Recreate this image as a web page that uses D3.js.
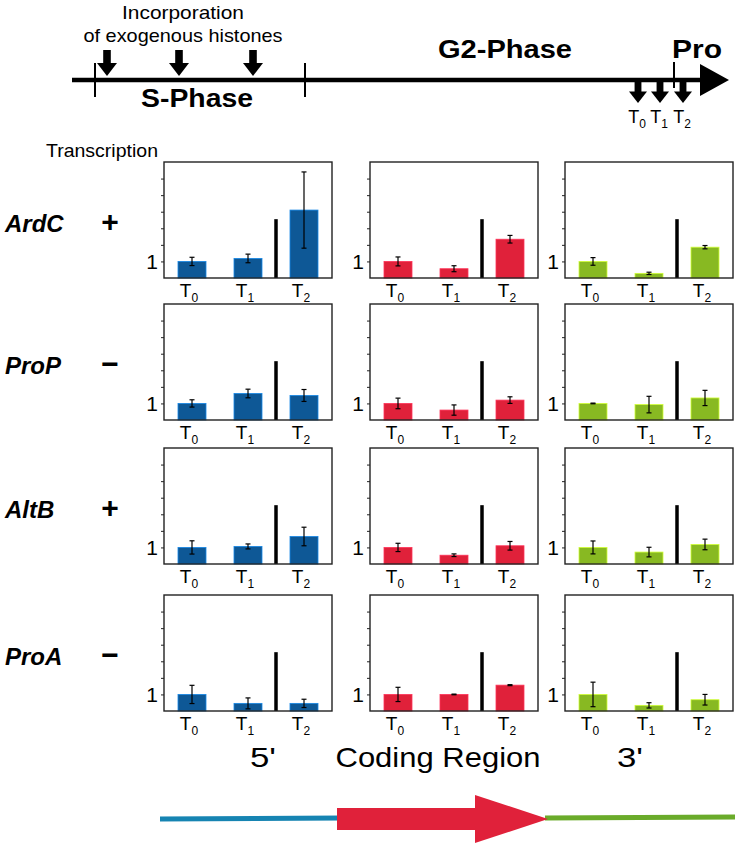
<!DOCTYPE html>
<html>
<head>
<meta charset="utf-8">
<script src="https://cdn.jsdelivr.net/npm/d3@7"></script>
<style>
  body { margin:0; background:#fff; }
  text { font-family: "Liberation Sans", Arial, sans-serif; }
</style>
</head>
<body>
<svg id="svg1" width="742" height="844"></svg>
<script>
// ---- data ----
var genes = ["ArdC", "ProP", "AltB", "ProA"];
var signs = ["+", "\u2212", "+", "\u2212"];
var regions = ["5'", "Coding Region", "3'"];
var timepoints = ["0", "1", "2"];
var regionColors = ["#0e5896", "#e0213a", "#88b922"];

// relative transcript level per gene (rows) and time point (T0,T1,T2)
var fivePrimeMean  = [[1.0, 1.18, 4.1], [1.0, 1.6, 1.48], [1.0, 1.06, 1.66], [1.0, 0.46, 0.46]];
var fivePrimeErr   = [[0.25, 0.26, 2.3], [0.22, 0.26, 0.36], [0.4, 0.15, 0.56], [0.55, 0.33, 0.25]];
var codingMean     = [[1.0, 0.56, 2.34], [1.0, 0.6, 1.2], [1.0, 0.53, 1.1], [1.0, 1.0, 1.56]];
var codingErr      = [[0.27, 0.18, 0.23], [0.32, 0.31, 0.2], [0.25, 0.08, 0.26], [0.43, 0.02, 0.03]];
var threePrimeMean = [[1.0, 0.28, 1.86], [1.0, 0.93, 1.33], [1.0, 0.72, 1.18], [1.0, 0.34, 0.68]];
var threePrimeErr  = [[0.23, 0.07, 0.1], [0.02, 0.5, 0.46], [0.39, 0.29, 0.32], [0.74, 0.16, 0.32]];
var dividerValue = 3.55;
var yMax = 7;
var yTicks = [1, 2, 3, 4, 5, 6];

var means = [fivePrimeMean, codingMean, threePrimeMean];
var errs = [fivePrimeErr, codingErr, threePrimeErr];

var svg = d3.select("#svg1");

// ---- cell cycle timeline at the top ----
var tl = svg.append("g");
tl.append("line").attr("x1", 72).attr("x2", 708).attr("y1", 80).attr("y2", 80)
  .attr("stroke", "#000").attr("stroke-width", 4.5);
tl.append("path").attr("d", "M700,64 L729,80 L700,96 Z").attr("fill", "#000");
[[95, 63, 97], [305, 63, 97], [674, 62, 88]].forEach(function(t){
  tl.append("line").attr("x1", t[0]).attr("x2", t[0]).attr("y1", t[1]).attr("y2", t[2])
    .attr("stroke", "#000").attr("stroke-width", 2);
});

function downArrow(g, cx, y0, y1, hw){
  var mid = y0 + (y1 - y0) * 0.5;
  g.append("rect").attr("x", cx - hw * 0.38).attr("y", y0).attr("width", hw * 0.76).attr("height", mid - y0 + 1)
    .attr("fill", "#000");
  g.append("path").attr("d", "M" + (cx - hw) + "," + mid + " L" + (cx + hw) + "," + mid +
    " L" + cx + "," + y1 + " Z").attr("fill", "#000");
}
[107, 179, 253].forEach(function(cx){ downArrow(tl, cx, 50, 76, 10); });
[638, 660, 683].forEach(function(cx){ downArrow(tl, cx, 80, 103, 9); });

function fitText(g, x, yy, size, bold, width, s){
  return g.append("text").attr("x", x).attr("y", yy).attr("text-anchor", "middle")
    .attr("textLength", width).attr("lengthAdjust", "spacingAndGlyphs")
    .style("font-size", size + "px").style("font-weight", bold ? "bold" : "normal").text(s);
}
fitText(tl, 183, 19, 19, false, 122, "Incorporation");
fitText(tl, 183, 42, 19, false, 199, "of exogenous histones");
fitText(tl, 197, 107, 25, true, 112, "S-Phase");
fitText(tl, 505, 58, 25, true, 134, "G2-Phase");
fitText(tl, 697, 58, 25, true, 50, "Pro");

[638, 660, 683].forEach(function(cx, i){
  var t = tl.append("text").attr("x", cx - 1).attr("y", 123).attr("text-anchor", "middle")
    .style("font-size", "18px");
  t.append("tspan").text("T");
  t.append("tspan").attr("dy", 5).style("font-size", "12px").text(timepoints[i]);
});

svg.append("text").attr("x", 46).attr("y", 157).attr("textLength", 112).attr("lengthAdjust", "spacingAndGlyphs")
  .style("font-size", "19px").text("Transcription");

// ---- panels ----
var colLeft = [164, 370, 565];
var rowTop = [162, 304, 448, 595];
var panelW = 168, panelH = 116;

var x = d3.scaleBand().domain(timepoints).range([0, panelW]).paddingInner(0.5).paddingOuter(0.25);
var y = d3.scaleLinear().domain([0, yMax]).range([panelH, 0]);

genes.forEach(function(gene, r){
  svg.append("text").attr("x", 5).attr("y", rowTop[r] + 70)
    .style("font-size", "24px").style("font-weight", "bold").style("font-style", "italic").text(gene);
  svg.append("text").attr("x", 110).attr("y", rowTop[r] + 70).attr("text-anchor", "middle")
    .style("font-size", "30px").style("font-weight", "bold").text(signs[r]);

  regions.forEach(function(reg, c){
    var g = svg.append("g").attr("transform", "translate(" + colLeft[c] + "," + rowTop[r] + ")");
    var vals = timepoints.map(function(t, i){ return {t: t, v: means[c][r][i], e: errs[c][r][i]}; });

    g.selectAll(".bar").data(vals).enter().append("rect")
      .attr("class", "bar")
      .attr("x", function(d){ return x(d.t); })
      .attr("y", function(d){ return y(d.v); })
      .attr("width", x.bandwidth())
      .attr("height", function(d){ return y(0) - y(d.v); })
      .attr("fill", regionColors[c])
      .attr("stroke", d3.color(regionColors[c]).brighter(1.2))
      .attr("stroke-width", 0.8);

    // error bars
    var eb = g.selectAll(".err").data(vals).enter().append("g").attr("class", "err")
      .attr("transform", function(d){ return "translate(" + (x(d.t) + x.bandwidth() / 2) + ",0)"; });
    eb.append("line").attr("y1", function(d){ return y(d.v - d.e); }).attr("y2", function(d){ return y(d.v + d.e); })
      .attr("stroke", "#000").attr("stroke-width", 1.2);
    eb.append("line").attr("x1", -2.5).attr("x2", 2.5)
      .attr("y1", function(d){ return y(d.v + d.e); }).attr("y2", function(d){ return y(d.v + d.e); })
      .attr("stroke", "#000").attr("stroke-width", 1.2);
    eb.append("line").attr("x1", -2.5).attr("x2", 2.5)
      .attr("y1", function(d){ return y(d.v - d.e); }).attr("y2", function(d){ return y(d.v - d.e); })
      .attr("stroke", "#000").attr("stroke-width", 1.2);

    // divider between T1 and T2
    var dx = (x("1") + x.bandwidth() + x("2")) / 2;
    g.append("line").attr("x1", dx).attr("x2", dx).attr("y1", y(0)).attr("y2", y(dividerValue))
      .attr("stroke", "#000").attr("stroke-width", 3.5);

    // frame + y axis
    g.append("rect").attr("width", panelW).attr("height", panelH)
      .attr("fill", "none").attr("stroke", "#222").attr("stroke-width", 1.4);
    var ax = g.append("g").call(d3.axisLeft(y).tickValues(yTicks).tickSize(3).tickPadding(3)
      .tickFormat(function(d){ return d === 1 ? "1" : ""; }));
    ax.select(".domain").remove();
    ax.selectAll("line").attr("stroke", "#222");
    ax.selectAll("text").style("font-size", "21px").style("font-family", "Liberation Sans, Arial, sans-serif")
      .attr("fill", "#000");

    // T labels
    var lab = g.selectAll(".tl").data(timepoints).enter().append("text").attr("class", "tl")
      .attr("x", function(d){ return x(d) + x.bandwidth() / 2 - 3; })
      .attr("y", panelH + 19).attr("text-anchor", "middle").style("font-size", "19px");
    lab.append("tspan").text("T");
    lab.append("tspan").attr("dy", 5).style("font-size", "12px").text(function(d){ return d; });
  });
});

// ---- gene schematic at the bottom ----
var labelX = [263, 438, 630];
var labelW = [26, 205, 26];
regions.forEach(function(reg, i){
  svg.append("text").attr("x", labelX[i]).attr("y", 767).attr("text-anchor", "middle")
    .attr("textLength", labelW[i]).attr("lengthAdjust", "spacingAndGlyphs")
    .style("font-size", "28px").text(reg);
});
svg.append("line").attr("x1", 160).attr("x2", 342).attr("y1", 819).attr("y2", 818)
  .attr("stroke", "#1684b2").attr("stroke-width", 5);
svg.append("line").attr("x1", 545).attr("x2", 735).attr("y1", 818).attr("y2", 817)
  .attr("stroke", "#6aab2a").attr("stroke-width", 5);
svg.append("rect").attr("x", 337).attr("y", 808).attr("width", 140).attr("height", 22).attr("fill", "#e0213a");
svg.append("path").attr("d", "M475,795 L548,819 L475,843 Z").attr("fill", "#e0213a");
</script>
</body>
</html>
